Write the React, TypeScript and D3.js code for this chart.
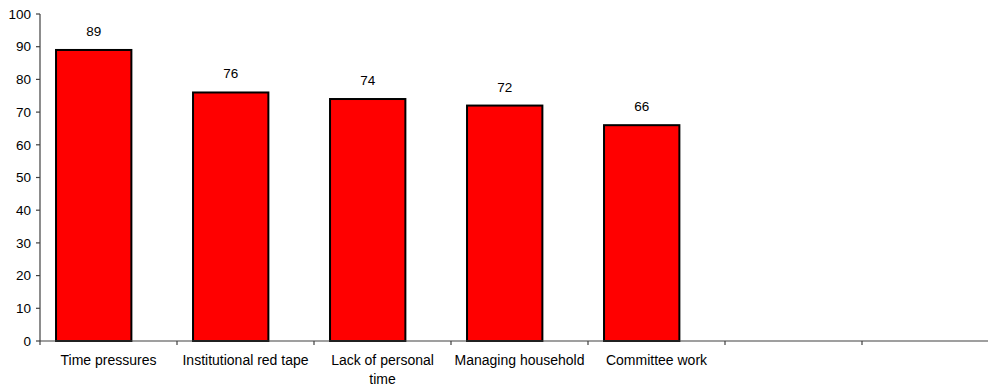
import React, { useEffect, useRef } from "react";
import * as d3 from "d3";

const categories = [
  "Time pressures",
  "Institutional red tape",
  "Lack of personal time",
  "Managing household",
  "Committee work",
  "",
  "",
];
const values: (number | null)[] = [89, 76, 74, 72, 66, null, null];
const yTicks = [0, 10, 20, 30, 40, 50, 60, 70, 80, 90, 100];

const W = 988;
const H = 387;
const FONT = "'Liberation Sans', Arial, sans-serif";

export default function App() {
  const ref = useRef<SVGSVGElement>(null);

  useEffect(() => {
    const svg = d3.select(ref.current);
    svg.selectAll("*").remove();

    const x = d3
      .scaleBand<number>()
      .domain(categories.map((_, i) => i))
      .range([40, 999])
      .padding(0);
    const y = d3.scaleLinear().domain([0, 100]).range([341, 14]);
    const bw = x.bandwidth();
    const axisColor = "#404040";

    const data = values
      .map((v, i) => ({ v, i }))
      .filter((d) => d.v !== null) as { v: number; i: number }[];

    svg
      .append("g")
      .selectAll("rect")
      .data(data)
      .join("rect")
      .attr("x", (d) => (x(d.i) as number) + bw * 0.117)
      .attr("y", (d) => y(d.v))
      .attr("width", bw * 0.55)
      .attr("height", (d) => y(0) - y(d.v))
      .attr("fill", "#ff0000")
      .attr("stroke", "#000")
      .attr("stroke-width", 2);

    svg
      .append("g")
      .selectAll("text")
      .data(data)
      .join("text")
      .attr("x", (d) => (x(d.i) as number) + bw * 0.117 + (bw * 0.55) / 2)
      .attr("y", (d) => y(d.v) - 14)
      .attr("text-anchor", "middle")
      .attr("font-family", FONT)
      .attr("font-size", 13.5)
      .attr("fill", "#000")
      .text((d) => String(d.v));

    // y axis
    const gy = svg.append("g");
    gy.append("line")
      .attr("x1", 40)
      .attr("x2", 40)
      .attr("y1", y(100))
      .attr("y2", y(0))
      .attr("stroke", axisColor)
      .attr("stroke-width", 1.2);
    const yt = gy.selectAll("g.t").data(yTicks).join("g").attr("class", "t");
    yt.append("line")
      .attr("x1", 36)
      .attr("x2", 40)
      .attr("y1", (d) => y(d))
      .attr("y2", (d) => y(d))
      .attr("stroke", axisColor)
      .attr("stroke-width", 1.2);
    yt.append("text")
      .attr("x", 31)
      .attr("y", (d) => y(d))
      .attr("dy", "0.35em")
      .attr("text-anchor", "end")
      .attr("font-family", FONT)
      .attr("font-size", 13.5)
      .attr("fill", "#000")
      .text((d) => String(d));

    // x axis
    const gx = svg.append("g");
    gx.append("line")
      .attr("x1", 40)
      .attr("x2", W)
      .attr("y1", y(0))
      .attr("y2", y(0))
      .attr("stroke", axisColor)
      .attr("stroke-width", 1.2);
    const bounds = categories.map((_, i) => x(i) as number);
    gx.selectAll("line.tk")
      .data(bounds)
      .join("line")
      .attr("class", "tk")
      .attr("x1", (d) => d)
      .attr("x2", (d) => d)
      .attr("y1", y(0))
      .attr("y2", y(0) + 4)
      .attr("stroke", axisColor)
      .attr("stroke-width", 1.2);

    const labels = gx
      .selectAll("text.cl")
      .data(categories.map((c, i) => ({ c, i })))
      .join("text")
      .attr("class", "cl")
      .attr("x", (d) => (x(d.i) as number) + bw / 2)
      .attr("y", 365)
      .attr("text-anchor", "middle")
      .attr("font-family", FONT)
      .attr("font-size", 14)
      .attr("fill", "#000");

    labels.each(function (d) {
      const t = d3.select(this);
      const words = d.c.split(" ").filter((w) => w.length);
      let line: string[] = [];
      let tspan = t.append("tspan").attr("x", (x(d.i) as number) + bw / 2).attr("dy", 0);
      for (const w of words) {
        line.push(w);
        tspan.text(line.join(" "));
        const len = (tspan.node() as SVGTSpanElement).getComputedTextLength();
        if (len > bw - 4 && line.length > 1) {
          line.pop();
          tspan.text(line.join(" "));
          line = [w];
          tspan = t
            .append("tspan")
            .attr("x", (x(d.i) as number) + bw / 2)
            .attr("dy", 19)
            .text(w);
        }
      }
    });
  }, []);

  return (
    <svg
      ref={ref}
      width={W}
      height={H}
      style={{ position: "absolute", left: 0, top: 0, background: "#fff" }}
    />
  );
}
